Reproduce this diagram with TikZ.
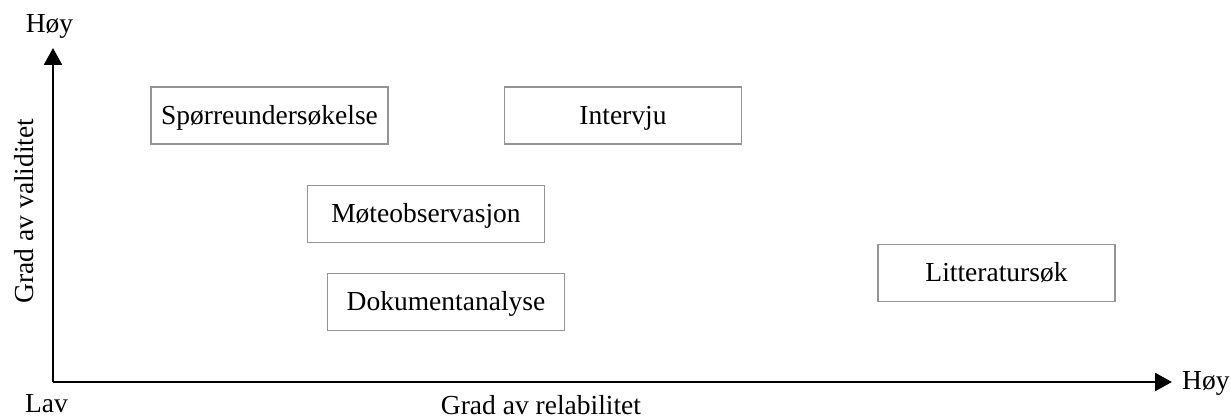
\documentclass[tikz,border=0pt]{standalone}
\usepackage{fontspec}
\setmainfont{Liberation Serif}
\usetikzlibrary{arrows.meta}
\begin{document}
\begin{tikzpicture}[x=1pt,y=-1pt,
  every node/.style={font=\fontsize{27.5}{33}\selectfont, inner sep=0pt},
  method/.style={draw=black!42, line width=1.8pt, minimum width=237pt, minimum height=57pt, text height=18pt, text depth=0pt},
  axis/.style={line width=2.5pt, -{Triangle[length=17pt,width=18pt]}}]
\useasboundingbox (0,0) rectangle (1231,419);
\coordinate (O) at (53,382);
\coordinate (Y) at (53,48);
\coordinate (X) at (1172,382);
\draw[axis] (O) -- (Y);
\draw[axis] (O) -- (X);
\node[anchor=base] (hoyy) at (49.5,33) {Høy};
\node[anchor=base] (lav) at (46.5,412) {Lav};
\node[anchor=base west] (hoyx) at (1182,389) {Høy};
\node[anchor=base] (xlab) at (541,414) {Grad av relabilitet};
\node[anchor=base, rotate=90] (ylab) at (33,211) {Grad av validitet};
\node[method] (spor) at (269.5,115.5) {Spørreundersøkelse};
\node[method] (int) at (623,115.5) {Intervju};
\node[method] (mote) at (426,214) {Møteobservasjon};
\node[method] (dok) at (446,302) {Dokumentanalyse};
\node[method] (lit) at (996.5,273) {Litteratursøk};
\end{tikzpicture}
\end{document}
